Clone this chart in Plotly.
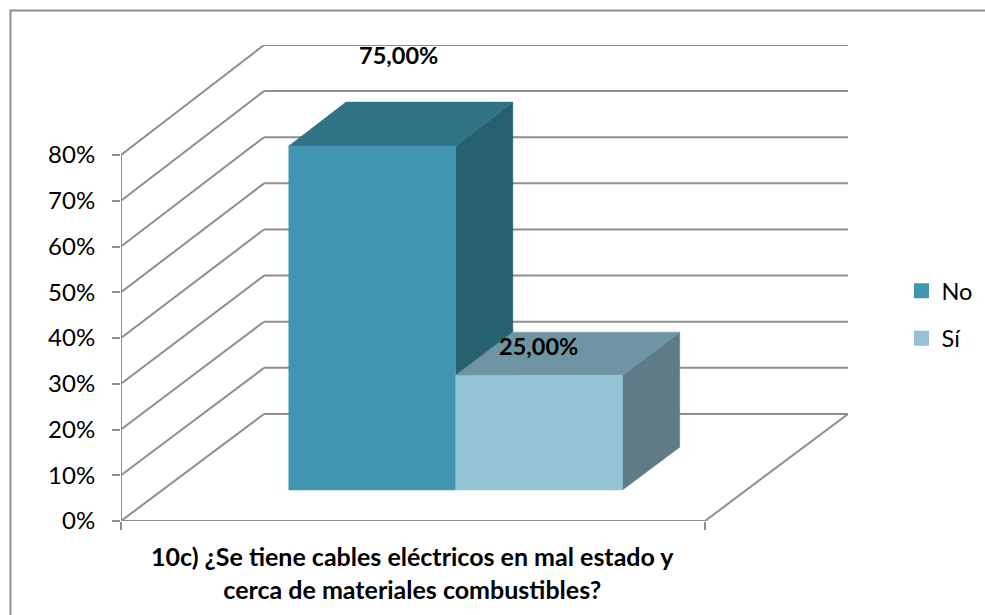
import plotly.graph_objects as go

# Data
series_names = ["No", "Sí"]
series_values = [75.0, 25.0]
value_labels = ["75,00%", "25,00%"]
axis_ticks = [0, 10, 20, 30, 40, 50, 60, 70, 80]
axis_tick_labels = ["0%", "10%", "20%", "30%", "40%", "50%", "60%", "70%", "80%"]
axis_title = "10c) ¿Se tiene cables eléctricos en mal estado y<br>cerca de materiales combustibles?"

# Style / oblique projection settings
W, H = 985, 615
LEFT, RIGHT, BASE, TOP = 121, 848, 521, 45
UNIT_W = 584.0            # pixels for the whole category width
UNIT_V = 366.0 / 80.0     # pixels per percentage point
DEPTH_X = (RIGHT - LEFT - UNIT_W) / UNIT_W
DEPTH_V = 107.0 / UNIT_V
PERSP = 0.0082            # back wall scale gain, slight perspective
V_TOP = (BASE - TOP) / UNIT_V
GAP = 1.5
BAR_W = 1.0 / (len(series_values) + GAP)
BAR_SHIFT = 0.002
BAR_FRONT, BAR_BACK = 0.29, 0.69
GRID = "#8e8e8e"
FONT = "Lato"
FACE_COLORS = [
    {"front": "#4096B0", "top": "#317286", "side": "#276170"},
    {"front": "#93C2D5", "top": "#6F95A4", "side": "#5E7B87"},
]
LABEL_SHIFT = [(26.0, -91.0), (-1.0, -29.0)]  # px from the bar's front-top centre


def proj(x, v, d):
    return x + d * DEPTH_X, v * (1 + PERSP * d) + d * DEPTH_V


def poly(points):
    pts = [proj(*p) for p in points]
    pts.append(pts[0])
    return [p[0] for p in pts], [p[1] for p in pts]


def segments(pairs):
    xs, ys = [], []
    for a, b in pairs:
        pa, pb = proj(*a), proj(*b)
        xs += [pa[0], pb[0], None]
        ys += [pa[1], pb[1], None]
    return xs, ys


fig = go.Figure()

# Walls and floor
wall_pairs = []
for t in axis_ticks:
    wall_pairs.append(((0, t, 0), (0, t, 1)))
    wall_pairs.append(((0, t, 1), (1, t, 1)))
wall_pairs.append(((0, 0, 0), (0, axis_ticks[-1], 0)))
wall_pairs.append(((0, 0, 0), (1, 0, 0)))
wall_pairs.append(((1, 0, 0), (1, 0, 1)))
gx, gy = segments(wall_pairs)
fig.add_trace(go.Scatter(x=gx, y=gy, mode="lines", line=dict(color=GRID, width=2),
                         hoverinfo="skip", showlegend=False, cliponaxis=False))

# Bars
for i, (name, val, colors) in enumerate(zip(series_names, series_values, FACE_COLORS)):
    x0 = GAP / 2 * BAR_W + i * BAR_W + BAR_SHIFT
    x1 = x0 + BAR_W
    faces = {
        "side": [(x1, 0, BAR_FRONT), (x1, 0, BAR_BACK), (x1, val, BAR_BACK), (x1, val, BAR_FRONT)],
        "top": [(x0, val, BAR_FRONT), (x1, val, BAR_FRONT), (x1, val, BAR_BACK), (x0, val, BAR_BACK)],
        "front": [(x0, 0, BAR_FRONT), (x1, 0, BAR_FRONT), (x1, val, BAR_FRONT), (x0, val, BAR_FRONT)],
    }
    for face, pts in faces.items():
        px, py = poly(pts)
        fig.add_trace(go.Scatter(x=px, y=py, mode="lines", fill="toself",
                                 fillcolor=colors[face], line=dict(color=colors[face], width=0.5),
                                 hoverinfo="skip", showlegend=False, cliponaxis=False))

# Legend entries
for i, (name, colors) in enumerate(zip(series_names, FACE_COLORS)):
    fig.add_trace(go.Scatter(x=[None], y=[None], mode="markers", name=name, legendgroup=name,
                             marker=dict(symbol="square", size=15, color=colors["front"])))

# Data labels
for i, (val, lab, shift) in enumerate(zip(series_values, value_labels, LABEL_SHIFT)):
    x0 = GAP / 2 * BAR_W + i * BAR_W + BAR_SHIFT
    cx, cv = proj(x0 + BAR_W / 2, val, BAR_FRONT)
    fig.add_annotation(x=cx, y=cv, text=f"<b>{lab}</b>", showarrow=False, xref="x", yref="y",
                       xshift=shift[0], yshift=-shift[1],
                       font=dict(family=FONT, size=23.5, color="#000000"))

# Axis title
fig.add_annotation(x=0.5, y=0, xref="x", yref="y", yshift=-51, xshift=-1, yanchor="middle",
                   text=f"<b>{axis_title}</b>", showarrow=False, align="center",
                   font=dict(family=FONT, size=25, color="#000000"))

# Chart frame (open at right and bottom, as in the picture)
fig.add_shape(type="path", xref="paper", yref="paper",
              path=f"M {10.5/W} 0 L {10.5/W} {1-10.5/H} L 1 {1-10.5/H}",
              line=dict(color="#8e8e8e", width=2))

fig.update_layout(
    template="none",
    width=W, height=H,
    margin=dict(l=0, r=0, t=0, b=0),
    paper_bgcolor="#ffffff", plot_bgcolor="rgba(0,0,0,0)",
    font=dict(family=FONT, size=24, color="#000000"),
    hovermode=False,
    legend=dict(x=901.5 / W, y=1 - 269 / H, xanchor="left", yanchor="top",
                bgcolor="rgba(0,0,0,0)", tracegroupgap=14, itemsizing="trace",
                font=dict(family=FONT, size=23.5, color="#000000")),
    xaxis=dict(domain=[LEFT / W, RIGHT / W], range=[0, 1 + DEPTH_X], showgrid=False, zeroline=False,
               showline=False, automargin=False, tickmode="array", tickvals=[0, 1], ticktext=["", ""],
               ticks="outside", ticklen=8, tickwidth=2, tickcolor=GRID),
    yaxis=dict(domain=[1 - BASE / H, 1 - TOP / H], range=[0, V_TOP], showgrid=False,
               zeroline=False, showline=False, automargin=False, tickmode="array", tickvals=axis_ticks,
               ticktext=axis_tick_labels, ticks="outside", ticklen=8, tickwidth=2, tickcolor=GRID,
               ticklabelstandoff=12, tickfont=dict(family=FONT, size=24, color="#000000")),
)

fig.write_html("out.html", config={"displayModeBar": False},
               post_script="document.body.style.margin='0';document.documentElement.style.overflow='hidden';")
